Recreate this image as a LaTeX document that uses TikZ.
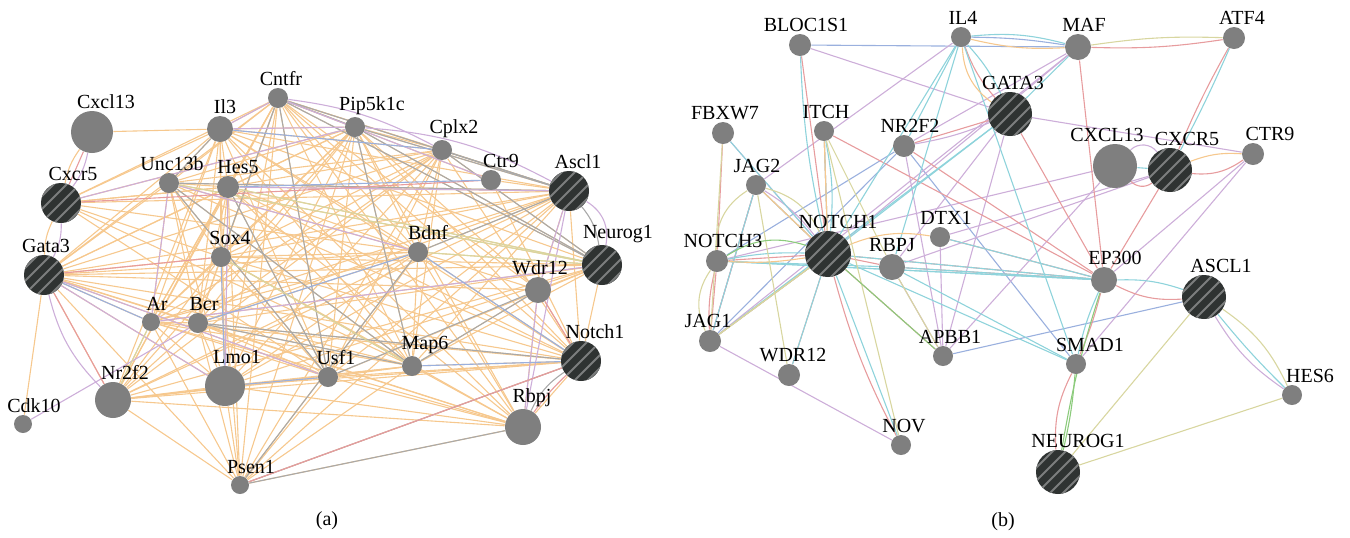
\documentclass[tikz,border=0pt]{standalone}
\usepackage{fontspec}
\setmainfont{Liberation Serif}
\usetikzlibrary{backgrounds}
\definecolor{cor}{HTML}{F6C88E}
\definecolor{cgr}{HTML}{A9A9A9}
\definecolor{cpu}{HTML}{CDAED9}
\definecolor{cre}{HTML}{E79C9E}
\definecolor{cbl}{HTML}{9AB0DE}
\definecolor{col}{HTML}{D8D6A0}
\definecolor{cte}{HTML}{8ED3DB}
\definecolor{cgn}{HTML}{8CCB7C}
\definecolor{nodegrey}{HTML}{7F7F7F}
\definecolor{hubdark}{HTML}{2F3332}
\definecolor{stripe}{HTML}{7C7E7E}
\tikzset{
  gene/.style={circle, fill=nodegrey, draw=none, inner sep=0pt, minimum size=#1},
  gene/.default=10pt,
  hub/.style={circle, fill=hubdark, draw=none, inner sep=0pt, minimum size=#1,
    path picture={\foreach \d in {-4,...,4}{\draw[stripe, line width=0.9pt]
      ([shift={(\d*6.5pt-25pt,-25pt)}]path picture bounding box.center) -- ++(50pt,50pt);}}},
  hub/.default=20pt,
  lab/.style={font=\fontsize{10pt}{12pt}\selectfont, inner sep=0.8pt, text=black},
  every label/.style={lab},
  label distance=0pt,
  edge/.style={line width=0.55pt},
  eo/.style={edge, cor}, eg/.style={edge, cgr}, ep/.style={edge, cpu},
  er/.style={edge, cre}, eb/.style={edge, cbl}, ey/.style={edge, col},
  et/.style={edge, cte}, en/.style={edge, cgn}
}
\begin{document}
\begin{tikzpicture}[x=0.5pt, y=-0.5pt]
\useasboundingbox (0,0) rectangle (1350,537);
% ---------------- panel (a) nodes ----------------
\node[gene=21pt, label={[xshift=7pt]above:Cxcl13}] (aCxcl) at (92,132) {};
\node[hub, label={[xshift=6pt]above:Cxcr5}] (aCxcr) at (61,203) {};
\node[hub, label={[xshift=1pt]above:Gata3}] (aGata) at (44,275) {};
\node[gene=13pt, label={[xshift=2.5pt]above:Il3}] (aIl3) at (220,129) {};
\node[gene=10pt, label={[xshift=1.5pt]above:Cntfr}] (aCntfr) at (278,98) {};
\node[gene=10pt, label={[xshift=1.5pt]above:Unc13b}] (aUnc) at (169,183) {};
\node[gene=11pt, label={[xshift=5pt]above:Hes5}] (aHes) at (228,187) {};
\node[gene=10pt, label={[xshift=4.5pt]above:Sox4}] (aSox) at (221,257) {};
\node[gene=10pt, label={[xshift=8.5pt]above:Pip5k1c}] (aPip) at (355,127) {};
\node[gene=10pt, label={[xshift=6pt]above:Cplx2}] (aCplx) at (442,150) {};
\node[gene=10pt, label={[xshift=5pt]above:Ctr9}] (aCtr) at (491,180) {};
\node[hub, label={[xshift=4.5pt]above:Ascl1}] (aAscl) at (569,191) {};
\node[gene=10pt, label={[xshift=5pt]above:Bdnf}] (aBdnf) at (418,252) {};
\node[hub, label={[xshift=8pt]above:Neurog1}] (aNeur) at (602,265) {};
\node[gene=13pt, label={[xshift=1pt]above:Wdr12}] (aWdr) at (538,290) {};
\node[gene=9pt, label={[xshift=3pt]above:Ar}] (aAr) at (151,322) {};
\node[gene=10pt, label={[xshift=3pt]above:Bcr}] (aBcr) at (198,323) {};
\node[gene=20pt, label={[xshift=6pt]above:Lmo1}] (aLmo) at (225,386) {};
\node[gene=18pt, label={[xshift=6pt]above:Nr2f2}] (aNr) at (113,400) {};
\node[gene=9pt, label={[xshift=5.5pt]above:Cdk10}] (aCdk) at (23,424) {};
\node[gene=9pt, label={[xshift=5.5pt]above:Psen1}] (aPsen) at (240,485) {};
\node[gene=10pt, label={[xshift=4pt]above:Usf1}] (aUsf) at (328,377) {};
\node[gene=10pt, label={[xshift=6.5pt]above:Map6}] (aMap) at (412,366) {};
\node[hub, label={[xshift=7pt]above:Notch1}] (aNotch) at (581,361) {};
\node[gene=18pt, label={[xshift=4.5pt]above:Rbpj}] (aRbpj) at (523,427) {};
\node[lab] (capa) at (327,521) {(a)};
% ---------------- panel (b) nodes ----------------
\node[gene=11pt, label={[xshift=3pt]above:BLOC1S1}] (bBloc) at (800,45) {};
\node[gene=10pt, label={[xshift=1pt]above:IL4}] (bIl4) at (961,37) {};
\node[gene=13pt, label={[xshift=3pt]above:MAF}] (bMaf) at (1078,47) {};
\node[gene=11pt, label={[xshift=4pt]above:ATF4}] (bAtf) at (1234,38) {};
\node[hub=22pt, label={[xshift=1.5pt]above:GATA3}] (bGata) at (1010,114) {};
\node[gene=11pt, label={[xshift=1pt]above:FBXW7}] (bFbx) at (723,133) {};
\node[gene=10pt, label={[xshift=1pt]above:ITCH}] (bItch) at (824,131) {};
\node[gene=11pt, label={[xshift=3pt]above:NR2F2}] (bNr) at (904,146) {};
\node[gene=10pt, label={[xshift=0.5pt]above:JAG2}] (bJag2) at (756,185) {};
\node[gene=10pt, label={[xshift=3pt]above:DTX1}] (bDtx) at (940,237) {};
\node[hub=23pt, label={[xshift=5pt]above:NOTCH1}] (bNotch) at (828,254) {};
\node[gene=13pt, label={above:RBPJ}] (bRbpj) at (892,267) {};
\node[gene=11pt, label={[xshift=3pt]above:NOTCH3}] (bNotch3) at (717,261) {};
\node[gene=22pt, label={[xshift=-4pt]above:CXCL13}] (bCxcl) at (1115,166) {};
\node[hub=22pt, label={[xshift=8.5pt]above:CXCR5}] (bCxcr) at (1170,170) {};
\node[gene=11pt, label={[xshift=8.5pt]above:CTR9}] (bCtr) at (1253,154) {};
\node[gene=13pt, label={[xshift=5.5pt]above:EP300}] (bEp) at (1104,280) {};
\node[hub=22pt, label={[xshift=8.5pt]above:ASCL1}] (bAscl) at (1204,297) {};
\node[gene=10pt, label={[xshift=7pt]above:SMAD1}] (bSmad) at (1076,364) {};
\node[gene=10pt, label={[xshift=9pt]above:HES6}] (bHes) at (1292,395) {};
\node[hub=22pt, label={[xshift=10pt]above:NEUROG1}] (bNeur) at (1058,472) {};
\node[gene=11pt, label={[xshift=-1pt]above:JAG1}] (bJag1) at (710,341) {};
\node[gene=11pt, label={[xshift=2pt]above:WDR12}] (bWdr) at (789,375) {};
\node[gene=10pt, label={[xshift=3.5pt]above:APBB1}] (bApbb) at (943,356) {};
\node[gene=10pt, label={[xshift=1.5pt]above:NOV}] (bNov) at (901,445) {};
\node[lab] (capb) at (1003,522) {(b)};
% ---------------- edges ----------------
\begin{scope}[on background layer]
% panel (a) orange
\foreach \s/\ts in {
 aCntfr/{aIl3,aUnc,aHes,aSox,aPip,aCplx,aCtr,aAscl,aBdnf,aNeur,aWdr,aAr,aBcr,aLmo,aUsf,aMap,aNotch,aRbpj,aGata,aCxcr,aPsen,aNr},
 aPip/{aIl3,aUnc,aHes,aSox,aCplx,aAscl,aBdnf,aNeur,aAr,aBcr,aLmo,aUsf,aMap,aNotch,aRbpj,aGata,aCxcr,aPsen,aNr,aWdr},
 aCplx/{aIl3,aUnc,aHes,aSox,aBdnf,aAr,aBcr,aLmo,aUsf,aMap,aNotch,aGata,aNr,aAscl,aNeur,aPsen},
 aAscl/{aIl3,aUnc,aHes,aSox,aBdnf,aAr,aBcr,aLmo,aUsf,aMap,aNotch,aGata,aNr,aWdr,aCxcr,aPsen,aCtr},
 aNotch/{aIl3,aUnc,aHes,aSox,aBdnf,aAr,aBcr,aLmo,aUsf,aMap,aGata,aNr,aWdr,aNeur,aRbpj,aPsen,aCtr},
 aNeur/{aHes,aSox,aBdnf,aAr,aBcr,aLmo,aUsf,aMap,aGata,aNr,aWdr,aUnc,aIl3},
 aBdnf/{aIl3,aUnc,aHes,aSox,aAr,aBcr,aLmo,aUsf,aMap,aGata,aNr,aRbpj,aPsen,aCxcr,aWdr},
 aMap/{aIl3,aUnc,aHes,aSox,aAr,aBcr,aLmo,aUsf,aGata,aNr,aRbpj,aPsen,aCxcr,aWdr},
 aUsf/{aIl3,aUnc,aHes,aSox,aAr,aBcr,aLmo,aGata,aNr,aRbpj,aPsen,aCxcr},
 aHes/{aIl3,aUnc,aSox,aAr,aBcr,aLmo,aGata,aNr,aRbpj,aPsen,aCxcr},
 aIl3/{aUnc,aSox,aAr,aBcr,aLmo,aGata,aNr,aRbpj,aCxcr,aCxcl},
 aSox/{aAr,aBcr,aLmo,aGata,aNr,aRbpj,aPsen,aUnc},
 aLmo/{aAr,aBcr,aGata,aNr,aRbpj,aPsen},
 aAr/{aBcr,aGata,aNr,aRbpj,aPsen},
 aBcr/{aGata,aNr,aRbpj,aPsen},
 aGata/{aNr,aCdk,aRbpj,aPsen},
 aNr/{aRbpj,aPsen},
 aPsen/{aRbpj},
 aWdr/{aRbpj,aGata},
 aUnc/{aAr,aBcr,aLmo,aGata},
 aCxcr/{aSox,aHes}}
 {\foreach \t in \ts {\draw[eo] (\s) -- (\t);}}
\draw[eo] (aCxcl) to[bend right=12] (aCxcr);
\draw[eo] (aCxcr) to[bend right=12] (aGata);
% panel (a) grey
\foreach \s/\t in {aCntfr/aAscl, aCntfr/aNeur, aPip/aAscl, aPip/aNeur, aCplx/aAscl, aCplx/aNeur,
 aUnc/aAscl, aUnc/aMap, aUnc/aUsf, aCntfr/aUsf, aCntfr/aSox,
 aBcr/aMap, aBcr/aNotch, aWdr/aMap, aBdnf/aAscl, aPsen/aNotch, aPsen/aRbpj, aIl3/aUnc,
 aHes/aUsf, aPip/aMap, aBdnf/aPsen, aUsf/aWdr, aCntfr/aPip}
 {\draw[eg] (\s) -- (\t);}
\draw[eg] (aAscl) to[bend left=15] (aNeur);
\draw[eg] (aRbpj) to[bend left=15] (aNotch);
% panel (a) purple
\foreach \s/\t in {aGata/aLmo, aCdk/aBcr, aIl3/aCntfr, aIl3/aPip, aWdr/aAscl, aRbpj/aWdr,
 aRbpj/aAscl, aHes/aAscl, aUnc/aAr, aCntfr/aCtr, aAr/aNeur, aLmo/aHes, aUnc/aBdnf, aCxcr/aPip, aGata/aUsf}
 {\draw[ep] (\s) -- (\t);}
\draw[ep] (aCxcl) to[bend left=12] (aCxcr);
\draw[ep] (aCxcr) to[bend left=14] (aGata);
\draw[ep] (aGata) to[bend right=15] (aNr);
\draw[ep] (aPip) to[bend left=12] (aAscl);
\draw[ep] (aAscl) to[bend left=35] (aNeur);
\draw[ep] (aCntfr) to[bend left=10] (aCplx);
% panel (a) red
\foreach \s/\t in {aCxcl/aCxcr, aCxcr/aCtr, aGata/aNr, aGata/aSox, aPsen/aNotch, aWdr/aNotch}
 {\draw[er] (\s) -- (\t);}
\draw[er] (aRbpj) to[bend left=5] (aNotch);
% panel (a) blue
\foreach \s/\t in {aHes/aCtr, aLmo/aUsf, aMap/aNotch, aSox/aLmo, aGata/aAr, aBdnf/aNotch, aIl3/aCplx, aBcr/aBdnf}
 {\draw[eb] (\s) -- (\t);}
% panel (a) olive
\foreach \s/\t in {aHes/aNeur, aAr/aNr, aBdnf/aNeur, aSox/aMap, aUnc/aNeur}
 {\draw[ey] (\s) -- (\t);}
% ---------------- panel (b) ----------------
% blue
\foreach \s/\t in {bBloc/bMaf, bNr/bSmad, bNr/bNotch3, bApbb/bAscl, bNr/bJag1}
 {\draw[eb] (\s) -- (\t);}
\draw[eb] (bIl4) to[bend left=4] (bMaf);
% purple
\foreach \s/\t in {bBloc/bGata, bIl4/bJag2, bMaf/bNotch, bMaf/bNr, bMaf/bJag1, bGata/bCtr, bGata/bApbb,
 bCxcr/bRbpj, bCxcr/bDtx, bCxcl/bNotch3, bCxcl/bApbb, bCtr/bEp, bCtr/bSmad, bNr/bApbb,
 bJag1/bNov, bFbx/bNotch, bJag2/bJag1, bDtx/bApbb, bRbpj/bApbb, bGata/bRbpj}
 {\draw[ep] (\s) -- (\t);}
\draw[ep] (bGata) to[bend left=6] (bNr);
\draw[ep] (bCxcl) to[bend left=50] (bCxcr);
\draw[ep] (bAscl) to[bend right=12] (bHes);
\draw[ep] (bJag2) to[bend left=10] (bNotch);
% red
\foreach \s/\t in {bBloc/bNotch, bMaf/bEp, bGata/bNr, bGata/bEp, bCxcr/bEp,
 bEp/bNotch, bEp/bNr, bItch/bEp, bItch/bNotch, bFbx/bNotch3, bJag2/bNotch, bJag2/bJag1,
 bNotch3/bNotch, bJag1/bNotch, bWdr/bNotch, bNotch/bApbb, bNotch/bRbpj, bDtx/bEp, bNotch3/bJag1, bRbpj/bEp}
 {\draw[er] (\s) -- (\t);}
\draw[er] (bAtf) to[bend right=3] (bCxcr);
\draw[er] (bIl4) to[bend right=10] (bGata);
\draw[er] (bMaf) to[bend right=5] (bAtf);
\draw[er] (bCxcl) to[bend right=40] (bCxcr);
\draw[er] (bCxcr) to[bend right=20] (bCtr);
\draw[er] (bEp) to[bend right=15] (bAscl);
\draw[er] (bEp) to[bend left=4] (bSmad);
\draw[er] (bSmad) to[bend right=15] (bNeur);
\draw[er] (bNov) to[bend left=6] (bNotch);
\draw[er] (bJag1) to[bend left=8] (bNotch3);
% teal
\foreach \s/\t in {bIl4/bNotch, bIl4/bNr, bIl4/bRbpj, bIl4/bSmad, bMaf/bGata, bGata/bNotch,
 bGata/bJag1, bCxcl/bCxcr, bEp/bNotch, bEp/bRbpj, bEp/bNotch3, bItch/bNotch, bFbx/bNotch,
 bJag2/bNotch, bJag2/bJag1, bNotch3/bRbpj, bJag1/bNotch, bWdr/bNotch, bNov/bNotch,
 bSmad/bRbpj, bDtx/bEp, bNotch/bSmad, bNotch3/bEp}
 {\draw[et] (\s) -- (\t);}
\draw[et] (bAtf) to[bend left=2] (bCxcr);
\draw[et] (bBloc) to[bend right=5] (bNotch);
\draw[et] (bIl4) to[bend left=10] (bMaf);
\draw[et] (bIl4) to[bend left=8] (bGata);
\draw[et] (bEp) to[bend left=10] (bAscl);
\draw[et] (bEp) to[bend right=6] (bSmad);
\draw[et] (bAscl) to[bend right=3] (bHes);
\draw[et] (bNotch3) to[bend left=6] (bNotch);
\draw[et] (bItch) to[bend left=8] (bNotch);
% orange
\foreach \s/\t in {bItch/bNotch, bJag2/bNotch, bJag1/bNotch}
 {\draw[eo] (\s) -- (\t);}
\draw[eo] (bIl4) to[bend right=8] (bMaf);
\draw[eo] (bIl4) to[bend right=25] (bGata);
\draw[eo] (bCxcr) to[bend left=12] (bCtr);
\draw[eo] (bDtx) to[bend right=15] (bNotch);
\draw[eo] (bNotch3) to[bend right=6] (bNotch);
% olive
\foreach \s/\t in {bAscl/bNeur, bHes/bNeur, bItch/bRbpj, bFbx/bJag1, bJag2/bWdr, bJag1/bNotch, bRbpj/bApbb, bItch/bNov}
 {\draw[ey] (\s) -- (\t);}
\draw[ey] (bMaf) to[bend left=5] (bAtf);
\draw[ey] (bAscl) to[bend left=15] (bHes);
\draw[ey] (bJag2) to[bend right=30] (bNotch3);
\draw[ey] (bNotch3) to[bend right=30] (bJag1);
\draw[ey] (bJag2) to[bend left=25] (bNotch);
% green
\draw[en] (bNotch3) to[bend left=25] (bNotch);
\draw[en] (bNotch) -- (bApbb);
\draw[en] (bEp) to[bend right=4] (bNeur);
\draw[en] (bSmad) to[bend left=4] (bNeur);
\end{scope}
\end{tikzpicture}
\end{document}
